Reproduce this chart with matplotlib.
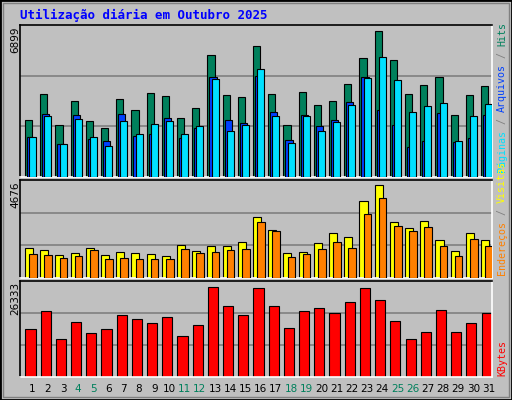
import matplotlib
matplotlib.use("Agg")
import matplotlib.pyplot as plt
import numpy as np

days = list(range(1, 32))
weekend = [4, 5, 11, 12, 18, 19, 25, 26]
hits = [2637,3833,2407,3511,2591,2269,3603,3097,3879,3741,2729,3189,5627,3787,3695,6087,3833,2407,3925,3327,3511,4293,5489,6777,5397,3833,4247,4615,2867,3787,4201]
files = [1855,2913,1533,2867,1763,1671,2913,1916,1993,2729,1809,2269,4614,2637,2499,4660,3005,1717,2867,2361,2637,3465,4614,3097,2407,1395,1671,2959,1625,1809,2867]
pages = [1855,2821,1533,2683,1855,1441,2591,1993,2453,2591,1993,2361,4522,2131,2407,4982,2821,1579,2821,2131,2545,3327,4568,5534,4476,3005,3281,3419,1671,2821,3373]
visits = [1443,1345,1099,1197,1443,1099,1246,1197,1148,1050,1591,1296,1542,1542,1738,2968,2329,1197,1246,1689,2181,1984,3756,4543,2722,2427,2772,1837,1296,2181,1837]
sites = [1148,1099,951,1050,1345,902,951,902,902,902,1394,1197,1246,1345,1394,2722,2280,1000,1148,1394,1738,1443,3116,3903,2526,2280,2476,1542,1050,1886,1542]
kbytes = [13398,18388,10626,15338,12289,13398,17279,16170,15061,16724,11458,14507,25318,19774,17279,24763,19774,13675,18388,19219,17833,20882,25040,21437,15616,10626,12566,18665,12566,15061,17833]
max_hits = 6899
max_visits = 4676
max_kb = 26333

W, H = 512, 400
fig = plt.figure(figsize=(W/100, H/100), dpi=100, facecolor="#c0c0c0")
fig.add_artist(plt.Rectangle((0, 0), 1, 1, transform=fig.transFigure, fill=False, edgecolor="black", lw=2))
fig.add_artist(plt.Rectangle((3/W, 3/H), 1-6/W, 1-6/H, transform=fig.transFigure, fill=False, edgecolor="#808080", lw=1))

def ax_px(x0, y0, x1, y1):
    return fig.add_axes([x0/W, 1-y1/H, (x1-x0)/W, (y1-y0)/H])

x = np.arange(len(days))
mono = "DejaVu Sans Mono"

def style(ax, vmax):
    ax.set_facecolor("#c0c0c0")
    ax.set_xlim(-0.33, 30.72)
    ax.set_ylim(0, vmax)
    for g in (vmax/3, 2*vmax/3):
        ax.axhline(g, color="#808080", lw=1.2, zorder=0)
    ax.set_xticks([]); ax.set_yticks([])
    for s in ("top", "left"):
        ax.spines[s].set_color("black")
    for s in ("bottom", "right"):
        ax.spines[s].set_color("white")
    for s in ax.spines.values():
        s.set_linewidth(1.2)

ax1 = ax_px(20, 25, 492, 177)
style(ax1, max_hits*1.02)
ax1.bar(x, hits, width=0.47, align="edge", color="#00805c", edgecolor="black", lw=0.8, zorder=2)
ax1.bar(x+0.13, files, width=0.47, align="edge", color="#0040ff", edgecolor="black", lw=0.8, zorder=3)
ax1.bar(x+0.27, pages, width=0.47, align="edge", color="#00e0ff", edgecolor="black", lw=0.8, zorder=4)

ax2 = ax_px(20, 180, 492, 278)
style(ax2, max_visits*1.02)
ax2.bar(x, visits, width=0.53, align="edge", color="#ffff00", edgecolor="black", lw=0.8, zorder=2)
ax2.bar(x+0.27, sites, width=0.5, align="edge", color="#ff8000", edgecolor="black", lw=0.8, zorder=3)

ax3 = ax_px(20, 281, 492, 377)
style(ax3, max_kb*1.02)
ax3.bar(x+0.03, kbytes, width=0.67, align="edge", color="#ff0000", edgecolor="black", lw=0.8, zorder=2)

for i, d in enumerate(days):
    xf = (20 + (i + 0.5 + 0.33) * 472/31.05) / W
    fig.text(xf, 1-389/H, str(d), ha="center", va="center", fontsize=7.5,
             color="#00805c" if d in weekend else "black")

fig.text(20/W, 1-15/H, "Utilização diária em Outubro 2025", fontsize=9, fontweight="bold",
         family=mono, color="#0000ff", va="center", ha="left")

fig.text(15/W, 1-40/H, str(max_hits), rotation=90, fontsize=7.5, va="center", ha="center")
fig.text(15/W, 1-195/H, str(max_visits), rotation=90, fontsize=7.5, va="center", ha="center")
fig.text(15/W, 1-298/H, str(max_kb), rotation=90, fontsize=7.5, va="center", ha="center")

fig.canvas.draw()
renderer = fig.canvas.get_renderer()

def rlabel(parts, y_bottom, fs):
    y = y_bottom
    for t, c in parts:
        tx = fig.text(502/W, 1-y/H, t, rotation=90, fontsize=fs, family=mono, color=c,
                      va="bottom", ha="center")
        ext = tx.get_window_extent(renderer)
        y -= ext.height

rlabel([("Páginas", "#00e0ff"), (" / ", "#808080"), ("Arquivos", "#0040ff"), (" / ", "#808080"), ("Hits", "#00805c")], 172, 7.2)
rlabel([("Endereços", "#ff8000"), (" / ", "#808080"), ("Visitas", "#ffff00")], 275, 7.2)
rlabel([("KBytes", "#ff0000")], 376, 7.2)

fig.savefig("out.png", dpi=100, facecolor="#c0c0c0")
